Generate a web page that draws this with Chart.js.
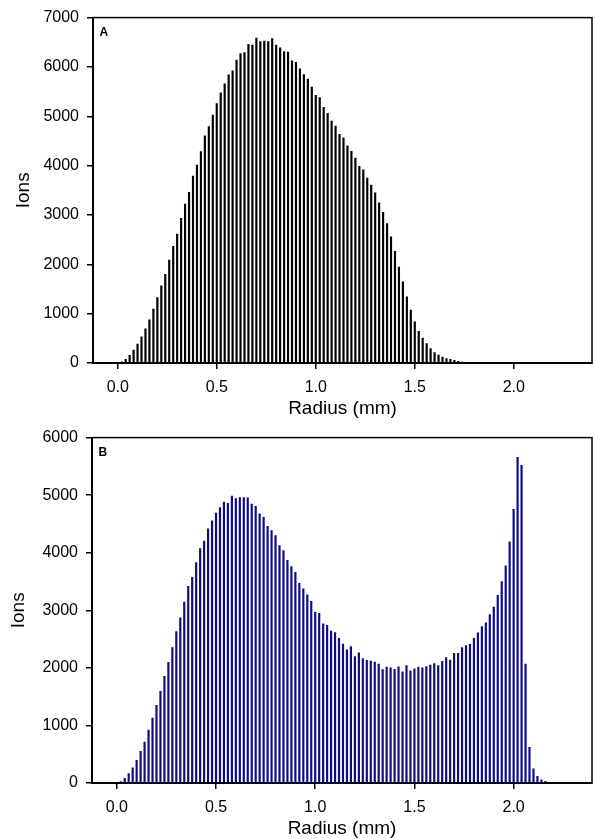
<!DOCTYPE html>
<html>
<head>
<meta charset="utf-8">
<script src="https://cdn.jsdelivr.net/npm/chart.js@4/dist/chart.umd.min.js"></script>
<style>
  body { margin: 0; background: #fff; }
  canvas { position: absolute; left: 0; }
  #chartA { top: 0; }
  #chartB { top: 420px; }
</style>
</head>
<body>
<canvas id="chartA" width="595" height="420"></canvas>
<canvas id="chartB" width="595" height="420"></canvas>
<script>
// === Data ===
// bin centres (mm)
const binRadius = [
  0.02, 0.04, 0.06, 0.08, 0.10, 0.12, 0.14, 0.16, 0.18, 0.20,
  0.22, 0.24, 0.26, 0.28, 0.30, 0.32, 0.34, 0.36, 0.38, 0.40,
  0.42, 0.44, 0.46, 0.48, 0.50, 0.52, 0.54, 0.56, 0.58, 0.60,
  0.62, 0.64, 0.66, 0.68, 0.70, 0.72, 0.74, 0.76, 0.78, 0.80,
  0.82, 0.84, 0.86, 0.88, 0.90, 0.92, 0.94, 0.96, 0.98, 1.00,
  1.02, 1.04, 1.06, 1.08, 1.10, 1.12, 1.14, 1.16, 1.18, 1.20,
  1.22, 1.24, 1.26, 1.28, 1.30, 1.32, 1.34, 1.36, 1.38, 1.40,
  1.42, 1.44, 1.46, 1.48, 1.50, 1.52, 1.54, 1.56, 1.58, 1.60,
  1.62, 1.64, 1.66, 1.68, 1.70, 1.72, 1.74, 1.76, 1.78, 1.80,
  1.82, 1.84, 1.86, 1.88, 1.90, 1.92, 1.94, 1.96, 1.98, 2.00,
  2.02, 2.04, 2.06, 2.08, 2.10, 2.12, 2.14, 2.16, 2.18
];

// panel A counts
const ionsA = [
  30, 80, 160, 270, 390, 535, 700, 880, 1100, 1335,
  1570, 1805, 2090, 2370, 2620, 2940, 3225, 3467, 3795, 4020,
  4290, 4610, 4800, 5030, 5265, 5480, 5665, 5846, 5930, 6145,
  6280, 6300, 6465, 6450, 6590, 6520, 6530, 6520, 6580, 6450,
  6395, 6320, 6310, 6130, 6100, 5970, 5850, 5760, 5600, 5430,
  5385, 5190, 5065, 4910, 4810, 4640, 4570, 4410, 4295, 4160,
  3990, 3920, 3755, 3615, 3455, 3255, 3060, 2830, 2565, 2270,
  1950, 1650, 1350, 1080, 840, 650, 510, 400, 300, 220,
  167, 127, 94, 80, 60, 40, 27, 13
];

// panel B counts
const ionsB = [
  30, 85, 170, 270, 400, 555, 715, 925, 1135, 1355,
  1600, 1860, 2100, 2360, 2635, 2875, 3150, 3420, 3580, 3835,
  4080, 4210, 4420, 4560, 4695, 4790, 4885, 4865, 4990, 4945,
  4965, 4965, 4960, 4850, 4810, 4680, 4620, 4465, 4390, 4305,
  4130, 4045, 3875, 3765, 3665, 3475, 3380, 3275, 3160, 2975,
  2955, 2770, 2745, 2645, 2620, 2520, 2420, 2320, 2375, 2200,
  2265, 2165, 2135, 2125, 2105, 2070, 1975, 2020, 2005, 1980,
  2025, 1935, 2045, 1955, 1990, 2020, 2005, 2030, 2055, 2080,
  2045, 2120, 2185, 2140, 2260, 2260, 2360, 2395, 2415, 2520,
  2615, 2725, 2790, 2930, 3060, 3265, 3505, 3780, 4195, 4760,
  5665, 5525, 2070, 625, 250, 120, 60, 35, 17
];

const xTicks = [0, 0.5, 1.0, 1.5, 2.0];
const yTicksA = [0, 1000, 2000, 3000, 4000, 5000, 6000, 7000];
const yTicksB = [0, 1000, 2000, 3000, 4000, 5000, 6000];

const FONT = '"Liberation Sans", Arial, sans-serif';

// panel letter + box around the plot area
const panelFrame = {
    id: 'panelFrame',
    afterDraw(chart, args, opts) {
        const { ctx, chartArea } = chart;
        ctx.save();
        ctx.strokeStyle = '#000';
        ctx.lineWidth = 1.5;
        ctx.strokeRect(chartArea.left, chartArea.top,
            chartArea.right - chartArea.left, chartArea.bottom - chartArea.top);
        ctx.fillStyle = '#000';
        ctx.font = 'bold 12px ' + FONT;
        ctx.textBaseline = 'alphabetic';
        ctx.fillText(opts.text, chartArea.left + 6.5, chartArea.top + 18.5);
        ctx.restore();
    }
};

function makeChart(id, letter, values, color, yMax, yTicks, yWidth, yTitlePad) {
    const points = values.map((v, i) => ({ x: binRadius[i], y: v }));
    return new Chart(document.getElementById(id), {
        type: 'bar',
        data: {
            datasets: [{
                data: points,
                backgroundColor: color,
                borderWidth: 0,
                barPercentage: 0.55,
                categoryPercentage: 1
            }]
        },
        options: {
            responsive: false,
            animation: false,
            layout: { padding: { left: 0, top: 14, right: 3, bottom: 0 } },
            plugins: {
                legend: { display: false },
                tooltip: { enabled: false },
                panelFrame: { text: letter }
            },
            scales: {
                x: {
                    type: 'linear',
                    offset: false,
                    min: -0.125,
                    max: 2.395,
                    afterBuildTicks: axis => { axis.ticks = xTicks.map(v => ({ value: v })); },
                    afterFit: axis => { axis.height = 57; },
                    grid: { offset: false, drawOnChartArea: false, drawTicks: true, tickLength: 6, color: '#000', lineWidth: 1.5 },
                    border: { display: true, color: '#000', width: 2 },
                    ticks: {
                        color: '#000',
                        padding: 9,
                        maxRotation: 0,
                        font: { family: FONT, size: 16 },
                        callback: v => Number(v).toFixed(1)
                    },
                    title: {
                        display: true,
                        text: 'Radius (mm)',
                        color: '#000',
                        font: { family: FONT, size: 19 },
                        padding: { top: 0, bottom: 0 }
                    }
                },
                y: {
                    min: 0,
                    max: yMax,
                    afterBuildTicks: axis => { axis.ticks = yTicks.map(v => ({ value: v })); },
                    afterFit: axis => { axis.width = yWidth; },
                    grid: { drawOnChartArea: false, drawTicks: true, tickLength: 6, color: '#000', lineWidth: 1.5 },
                    border: { display: true, color: '#000', width: 2 },
                    ticks: {
                        color: '#000',
                        padding: 8,
                        font: { family: FONT, size: 16 },
                        callback: v => String(v)
                    },
                    title: {
                        display: true,
                        text: 'Ions',
                        color: '#000',
                        font: { family: FONT, size: 19 },
                        padding: { top: yTitlePad, bottom: 0 }
                    }
                }
            }
        },
        plugins: [panelFrame]
    });
}

makeChart('chartA', 'A', ionsA, '#000000', 7000, yTicksA, 93, 12);
makeChart('chartB', 'B', ionsB, '#0c0c86', 6000, yTicksB, 92, 7);
</script>
</body>
</html>
